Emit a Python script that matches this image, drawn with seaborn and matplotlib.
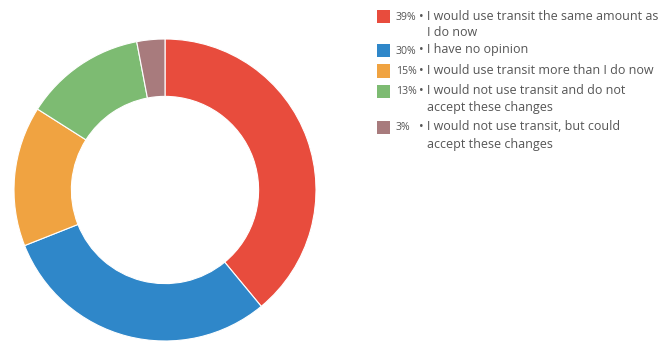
import matplotlib
matplotlib.use("Agg")
import matplotlib.pyplot as plt
import seaborn as sns
from matplotlib.patches import Rectangle

sns.set_style("white")
plt.rcParams['font.family'] = ['Open Sans', 'DejaVu Sans']

# data
shares = [39, 30, 15, 13, 3]
pct_labels = ["39%", "30%", "15%", "13%", "3%"]
answers = [
    ["I would use transit the same amount as", "I do now"],
    ["I have no opinion"],
    ["I would use transit more than I do now"],
    ["I would not use transit and do not", "accept these changes"],
    ["I would not use transit, but could", "accept these changes"],
]
colors = ["#e84c3d", "#2f87c9", "#f0a341", "#7dbb72", "#a87b7d"]

W, H = 667, 343
fig = plt.figure(figsize=(W / 100, H / 100), dpi=100)

# donut
ax = fig.add_axes([14 / W, 2 / H, 302 / W, 302 / H])
ax.pie(shares, colors=colors, startangle=90, counterclock=False,
       wedgeprops=dict(width=0.38, edgecolor="white", linewidth=0.8))
ax.set_xlim(-1, 1)
ax.set_ylim(-1, 1)
ax.set_aspect("equal")
ax.axis("off")

# legend drawn by hand to keep the hanging indent
row_y = [16, 50, 71, 91, 127]
line_gap = 17
fs = 9.0
txt_color = "#555555"
for y, col, pct, lines in zip(row_y, colors, pct_labels, answers):
    fig.patches.append(Rectangle((377 / W, 1 - (y + 6.5) / H), 13 / W, 13 / H,
                                 transform=fig.transFigure, facecolor=col,
                                 edgecolor="none"))
    base = y + 3.5
    fig.text(396 / W, 1 - base / H, pct, fontsize=7.6, color=txt_color,
             va="baseline")
    fig.text(419 / W, 1 - base / H, "\u2022 " + lines[0], fontsize=fs,
             color=txt_color, va="baseline")
    for i, extra in enumerate(lines[1:], start=1):
        fig.text(427 / W, 1 - (base + i * line_gap) / H, extra, fontsize=fs,
                 color=txt_color, va="baseline")

fig.savefig("out.png", dpi=100)
